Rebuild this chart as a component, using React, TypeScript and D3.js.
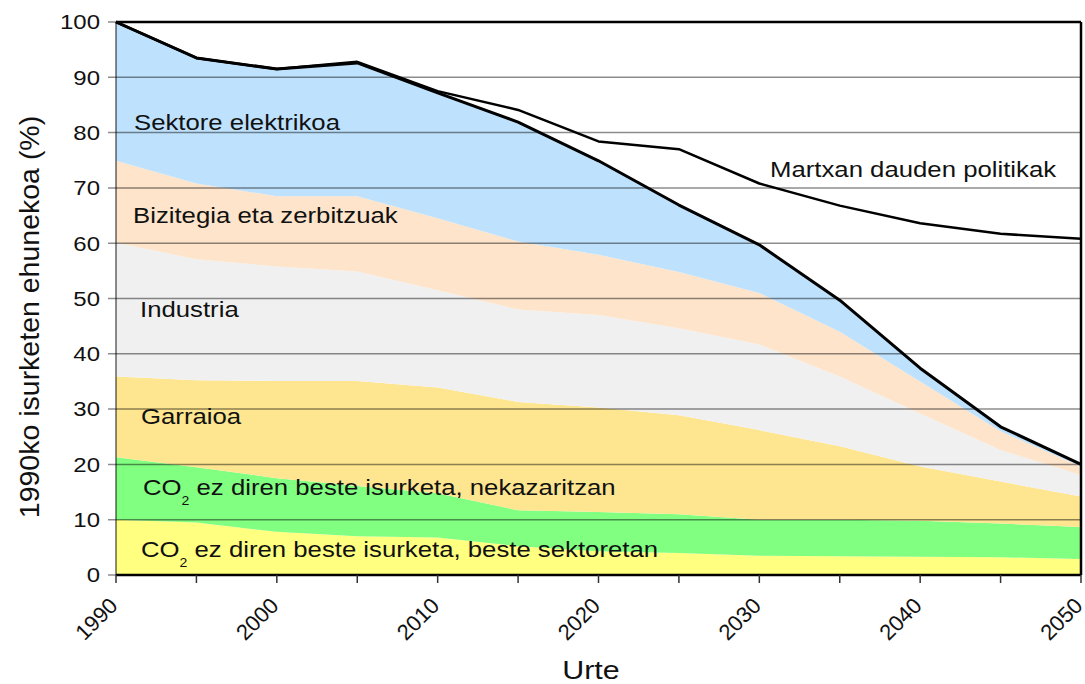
import React from "react";
import * as d3 from "d3";

const years = [1990, 1995, 2000, 2005, 2010, 2015, 2020, 2025, 2030, 2035, 2040, 2045, 2050];
const besteSektoretan = [10, 9.5, 7.8, 7.0, 6.8, 5.2, 4.3, 4.0, 3.5, 3.4, 3.3, 3.2, 2.9];
const nekazaritzan = [11.3, 10.0, 9.7, 9.1, 8.0, 6.5, 7.1, 7.0, 6.5, 6.6, 6.5, 6.1, 5.8];
const garraioa = [14.6, 15.7, 17.6, 19.0, 19.1, 19.6, 18.9, 17.9, 16.2, 13.3, 9.8, 7.6, 5.5];
const industria = [24.2, 21.9, 20.7, 19.8, 17.6, 16.7, 16.7, 15.7, 15.5, 12.6, 9.6, 5.7, 3.9];
const bizitegia = [14.8, 13.7, 12.7, 13.6, 13.0, 12.3, 10.9, 10.2, 9.3, 8.1, 5.8, 3.4, 1.5];
const elektrikoa = [25.1, 22.7, 23.0, 24.1, 22.7, 21.6, 17.0, 12.1, 8.7, 5.7, 2.4, 0.8, 0.4];
const martxan = [100, 93.5, 91.5, 92.8, 87.5, 84.1, 78.4, 77.0, 70.8, 66.8, 63.6, 61.7, 60.8];

const keys = ["beste", "nekaz", "garraioa", "industria", "bizitegia", "elektrikoa"];
const colors: Record<string, string> = {
  beste: "#ffff80",
  nekaz: "#80ff80",
  garraioa: "#fee58f",
  industria: "#f0f0f0",
  bizitegia: "#fde4ca",
  elektrikoa: "#bee2fd",
};
const yTicks = [0, 10, 20, 30, 40, 50, 60, 70, 80, 90, 100];
const xLabelYears = [1990, 2000, 2010, 2020, 2030, 2040, 2050];

const W = 1085, H = 684;
const L = 116, R = 1081, T = 22, B = 575;
const SX = 1.17;

function Label({ x, y, children, size = 22, anchor = "start" }: any) {
  return (
    <text transform={`translate(${x},${y}) scale(${SX},1)`} fontSize={size} textAnchor={anchor} fill="#111">
      {children}
    </text>
  );
}

export default function App() {
  const x = d3.scaleLinear().domain([1990, 2050]).range([L, R]);
  const y = d3.scaleLinear().domain([0, 100]).range([B, T]);
  const rows = years.map((yr, i) => ({
    year: yr,
    beste: besteSektoretan[i],
    nekaz: nekazaritzan[i],
    garraioa: garraioa[i],
    industria: industria[i],
    bizitegia: bizitegia[i],
    elektrikoa: elektrikoa[i],
  }));
  const series = d3.stack<any>().keys(keys)(rows);
  const area = d3
    .area<any>()
    .x((d) => x(d.data.year))
    .y0((d) => y(d[0]))
    .y1((d) => y(d[1]));
  const totalLine = d3
    .line<any>()
    .x((d) => x(d.data.year))
    .y((d) => y(d[1]));
  const mLine = d3
    .line<number>()
    .x((_, i) => x(years[i]))
    .y((d) => y(d));
  const font = "'Liberation Sans', Arial, sans-serif";
  const xTicks = d3.range(1990, 2051, 5);
  return (
    <svg width={W} height={H} style={{ position: "absolute", left: 0, top: 0 }} fontFamily={font}>
      <rect x={0} y={0} width={W} height={H} fill="#fff" />
      {series.map((s) => (
        <path key={s.key} d={area(s) || ""} fill={colors[s.key]} />
      ))}
      {yTicks.map((t) => (
        <g key={t}>
          <line x1={L - 8} x2={R} y1={y(t)} y2={y(t)} stroke="#000" strokeOpacity={0.45} strokeWidth={1.5} />
          <text
            transform={`translate(${L - 16},${y(t)}) scale(${SX},1)`}
            dy="0.36em"
            textAnchor="end"
            fontSize={20.5}
            fill="#111"
          >
            {t}
          </text>
        </g>
      ))}
      <line x1={L} x2={L} y1={T} y2={B} stroke="#000" strokeOpacity={0.45} strokeWidth={2} />
      <line x1={L} x2={R} y1={T} y2={T} stroke="#000" strokeWidth={2.5} />
      <line x1={R} x2={R} y1={T} y2={B} stroke="#000" strokeWidth={2.5} />
      <line x1={L} x2={R} y1={B} y2={B} stroke="#000" strokeWidth={2.5} />
      {xTicks.map((t) => (
        <line key={t} x1={x(t)} x2={x(t)} y1={B} y2={B + 8} stroke="#333" strokeWidth={1.5} />
      ))}
      {xLabelYears.map((t) => (
        <text
          key={t}
          transform={`translate(${x(t) + 3},${B + 32}) rotate(-45)`}
          textAnchor="end"
          fontSize={22}
          fill="#111"
        >
          {t}
        </text>
      ))}
      <path d={mLine(martxan) || ""} fill="none" stroke="#000" strokeWidth={2.5} strokeLinejoin="round" />
      <path
        d={totalLine(series[series.length - 1] as any) || ""}
        fill="none"
        stroke="#000"
        strokeWidth={3}
        strokeLinejoin="round"
      />
      <Label x={134} y={130}>Sektore elektrikoa</Label>
      <Label x={133} y={223}>Bizitegia eta zerbitzuak</Label>
      <Label x={140} y={317}>Industria</Label>
      <Label x={141} y={424}>Garraioa</Label>
      <Label x={143} y={495}>
        CO<tspan fontSize={12} dy={10}>2</tspan>
        <tspan dy={-10}> ez diren beste isurketa, nekazaritzan</tspan>
      </Label>
      <Label x={141} y={557}>
        CO<tspan fontSize={12} dy={10}>2</tspan>
        <tspan dy={-10}> ez diren beste isurketa, beste sektoretan</tspan>
      </Label>
      <Label x={770} y={177}>Martxan dauden politikak</Label>
      <text transform={`translate(39,317) rotate(-90)`} textAnchor="middle" fontSize={28.5} fill="#111">
        1990ko isurketen ehunekoa (%)
      </text>
      <Label x={591} y={679} size={26} anchor="middle">
        Urte
      </Label>
    </svg>
  );
}
